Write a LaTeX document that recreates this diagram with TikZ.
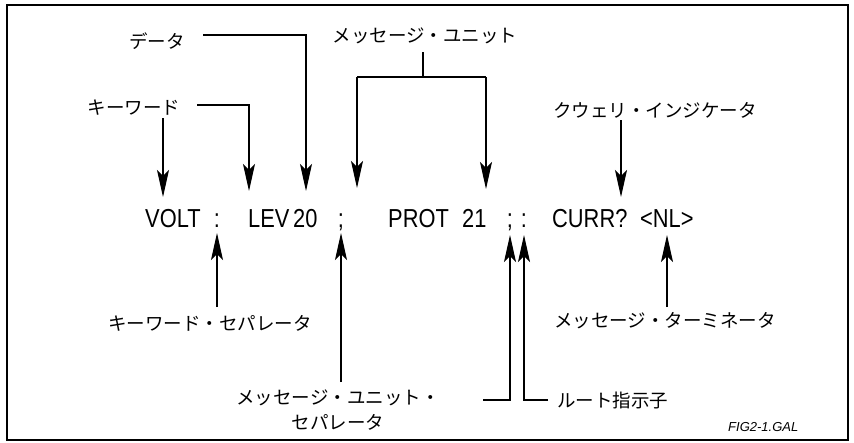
\documentclass[tikz,border=0pt]{standalone}
\usepackage{fontspec}
\newfontfamily\jpf{Noto Sans CJK JP}
\newfontfamily\cmdf[FakeStretch=0.84]{Liberation Sans}
\newfontfamily\figf{Liberation Sans}
\usetikzlibrary{arrows.meta}
\begin{document}
\begin{tikzpicture}[x=1pt,y=-1pt,
  lbl/.style={font=\jpf\fontsize{18.5}{25}\selectfont, inner sep=0pt, anchor=base},
  cmd/.style={font=\cmdf\fontsize{26}{30}\selectfont, inner sep=0pt, anchor=base west},
  cmdc/.style={cmd, anchor=base},
  ln/.style={line width=1.1pt},
  arr/.style={ln, -{Stealth[length=27pt,width=12pt,inset=6pt]}}]
\useasboundingbox (0,0) rectangle (854,442);
\draw[line width=2.5pt] (7,5) rectangle (848,440);

% command line
\node[cmd]  (volt) at (145,227) {VOLT};
\node[cmdc] (c1)   at (217,227) {:};
\node[cmd]  (lev)  at (248,227) {LEV};
\node[cmd]  (n20)  at (293,227) {20};
\node[cmdc] (s1)   at (341,227) {;};
\node[cmd]  (prot) at (388,227) {PROT};
\node[cmd]  (n21)  at (462,227) {21};
\node[cmdc] (s2)   at (510,227) {;};
\node[cmdc] (c2)   at (524,227) {:};
\node[cmd]  (curr) at (552,227) {CURR?};
\node[cmd]  (nl)   at (640,227) {<NL>};

% labels
\node[lbl] (kw)   at (134,114) {キーワード};
\node[lbl] (data) at (157,48)  {データ};
\node[lbl] (mu)   at (425,42)  {メッセージ・ユニット};
\node[lbl] (qi)   at (655,117) {クウェリ・インジケータ};
\node[lbl] (ks)   at (210,330) {キーワード・セパレータ};
\node[lbl] (mus1) at (338,404) {メッセージ・ユニット・};
\node[lbl] (mus2) at (338,429) {セパレータ};
\node[lbl, anchor=base west] (root) at (557,407) {ルート指示子};
\node[lbl] (mt)   at (665,327) {メッセージ・ターミネータ};
\node[font=\figf\itshape\fontsize{13}{15}\selectfont, inner sep=0pt, anchor=base west] (fig) at (728,431) {FIG2-1.GAL};

% coordinates
\coordinate (kwA) at (163,118); \coordinate (kwT1) at (163,197);
\coordinate (kwB) at (197,105); \coordinate (kwK) at (249,105); \coordinate (kwT2) at (249,191);
\coordinate (dA) at (203,35); \coordinate (dK) at (306,35); \coordinate (dT) at (306,191);
\coordinate (muA) at (423,52); \coordinate (muB) at (423,77);
\coordinate (muL) at (357,77); \coordinate (muR) at (486,77);
\coordinate (muTL) at (357,188); \coordinate (muTR) at (486,189);
\coordinate (qiA) at (621,120); \coordinate (qiT) at (621,197);
\coordinate (ksA) at (217,307); \coordinate (ksT) at (217,233);
\coordinate (musA) at (341,382); \coordinate (musT) at (341,233);
\coordinate (rL) at (483,400); \coordinate (rLK) at (510,400); \coordinate (rLT) at (510,235);
\coordinate (rR) at (548,400); \coordinate (rRK) at (524,400); \coordinate (rRT) at (524,235);
\coordinate (mtA) at (667,307); \coordinate (mtT) at (667,235);

% connectors
\draw[arr] (kwA) -- (kwT1);
\draw[arr] (kwB) -- (kwK) -- (kwT2);
\draw[arr] (dA) -- (dK) -- (dT);
\draw[ln] (muA) -- (muB);
\draw[ln] (muL) -- (muR);
\draw[arr] (muL) -- (muTL);
\draw[arr] (muR) -- (muTR);
\draw[arr] (qiA) -- (qiT);
\draw[arr] (ksA) -- (ksT);
\draw[arr] (musA) -- (musT);
\draw[arr] (rL) -- (rLK) -- (rLT);
\draw[arr] (rR) -- (rRK) -- (rRT);
\draw[arr] (mtA) -- (mtT);
\end{tikzpicture}
\end{document}
